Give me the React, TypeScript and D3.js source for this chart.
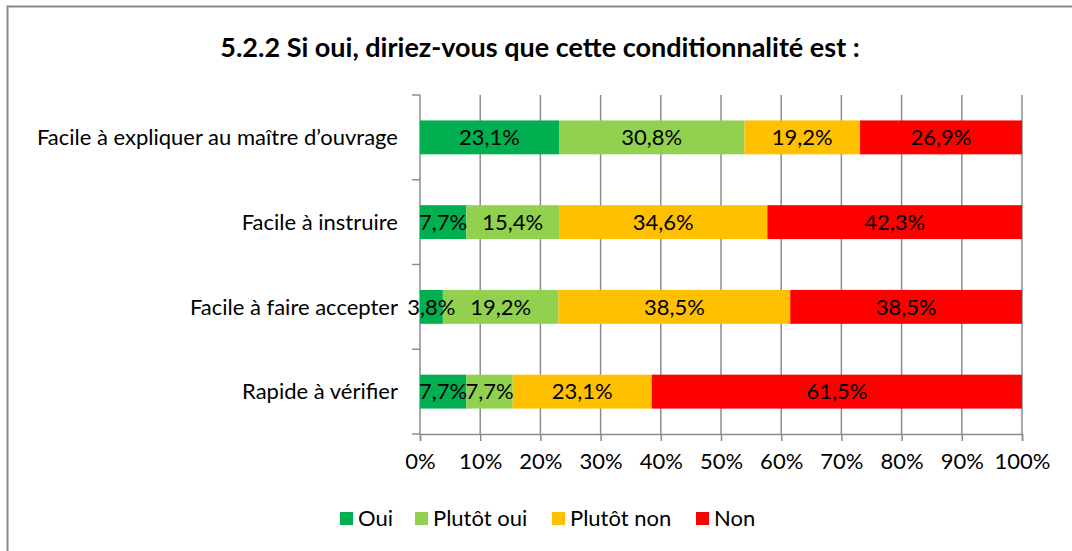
import { useEffect, useRef } from 'react';
import { select, scaleBand, scaleLinear, stack, axisBottom } from 'd3';

const categories = [
  'Facile à expliquer au maître d’ouvrage',
  'Facile à instruire',
  'Facile à faire accepter',
  'Rapide à vérifier',
];
const seriesNames = ['Oui', 'Plutôt oui', 'Plutôt non', 'Non'];
const seriesColors = ['#00B050', '#92D050', '#FFC000', '#FF0000'];
const oui = [23.1, 7.7, 3.8, 7.7];
const plutotOui = [30.8, 15.4, 19.2, 7.7];
const plutotNon = [19.2, 34.6, 38.5, 23.1];
const non = [26.9, 42.3, 38.5, 61.5];
const xTicks = [0, 10, 20, 30, 40, 50, 60, 70, 80, 90, 100];
const title = '5.2.2 Si oui, diriez-vous que cette conditionnalité est :';

const FONT = 'Lato, "Open Sans", sans-serif';
const FS = '22px';

const App = () => {
  const ref = useRef<SVGSVGElement>(null);

  useEffect(() => {
    const width = 1072;
    const height = 551;
    const svg = select(ref.current);
    svg.selectAll('*').remove();
    svg.attr('width', width).attr('height', height);

    // chart frame, cut by the picture on the right and bottom
    svg
      .append('rect')
      .attr('x', 7.5)
      .attr('y', 6.5)
      .attr('width', 1100)
      .attr('height', 600)
      .attr('fill', '#fff')
      .attr('stroke', '#8a8a8a')
      .attr('stroke-width', 2);

    svg
      .append('text')
      .attr('x', 540)
      .attr('y', 57)
      .attr('text-anchor', 'middle')
      .attr('font-family', FONT)
      .attr('font-weight', 'bold')
      .attr('font-size', '27px')
      .attr('fill', '#000')
      .text(title);

    const left = 420;
    const right = 1022;
    const top = 95;
    const bottom = 434;

    const x = scaleLinear().domain([0, 100]).range([left, right]);
    const y = scaleBand()
      .domain(categories)
      .range([top, bottom])
      .paddingInner(0.6)
      .paddingOuter(0.3);
    const step = y.step();

    const rows = categories.map((c, i) => ({
      cat: c,
      'Oui': oui[i],
      'Plutôt oui': plutotOui[i],
      'Plutôt non': plutotNon[i],
      'Non': non[i],
    }));
    const layers = stack<any>().keys(seriesNames)(rows);

    // gridlines
    svg
      .append('g')
      .selectAll('line')
      .data(xTicks.slice(1))
      .enter()
      .append('line')
      .attr('x1', (d) => x(d))
      .attr('x2', (d) => x(d))
      .attr('y1', top)
      .attr('y2', bottom)
      .attr('stroke', '#8c8c8c')
      .attr('stroke-width', 1.5);

    // bottom axis
    const ax = svg
      .append('g')
      .attr('transform', `translate(0,${bottom})`)
      .call(axisBottom(x).tickValues(xTicks).tickSize(7).tickPadding(12).tickFormat((d) => `${d}%`));
    ax.select('.domain').attr('stroke', '#8c8c8c').attr('stroke-width', 1.5);
    ax.selectAll('.tick line').attr('stroke', '#8c8c8c').attr('stroke-width', 1.5);
    ax.selectAll('.tick text')
      .attr('font-family', FONT)
      .attr('font-size', FS)
      .attr('fill', '#000');

    // left axis line and ticks between categories
    svg
      .append('line')
      .attr('x1', left)
      .attr('x2', left)
      .attr('y1', top)
      .attr('y2', bottom)
      .attr('stroke', '#8c8c8c')
      .attr('stroke-width', 1.5);
    svg
      .append('g')
      .selectAll('line')
      .data(categories.map((_, i) => i).concat([categories.length]))
      .enter()
      .append('line')
      .attr('x1', left - 8)
      .attr('x2', left)
      .attr('y1', (i) => top + i * step)
      .attr('y2', (i) => top + i * step)
      .attr('stroke', '#8c8c8c')
      .attr('stroke-width', 1.5);

    // category labels
    svg
      .append('g')
      .selectAll('text')
      .data(categories)
      .enter()
      .append('text')
      .attr('x', 398)
      .attr('y', (d) => y(d)! + y.bandwidth() / 2)
      .attr('dy', '0.35em')
      .attr('text-anchor', 'end')
      .attr('font-family', FONT)
      .attr('font-size', FS)
      .attr('fill', '#000')
      .text((d) => d);

    // bars first, then all the labels on top
    layers.forEach((layer, si) => {
      svg
        .append('g')
        .selectAll('rect')
        .data(layer)
        .enter()
        .append('rect')
        .attr('x', (d) => x(d[0]))
        .attr('y', (d) => y(d.data.cat)!)
        .attr('width', (d) => x(d[1]) - x(d[0]))
        .attr('height', y.bandwidth())
        .attr('fill', seriesColors[si]);
    });
    layers.forEach((layer) => {
      svg
        .append('g')
        .selectAll('text')
        .data(layer)
        .enter()
        .append('text')
        .attr('x', (d) => (x(d[0]) + x(d[1])) / 2)
        .attr('y', (d) => y(d.data.cat)! + y.bandwidth() / 2)
        .attr('dy', '0.35em')
        .attr('text-anchor', 'middle')
        .attr('font-family', FONT)
        .attr('font-size', FS)
        .attr('fill', '#000')
        .text((d) => `${(d[1] - d[0]).toFixed(1).replace('.', ',')}%`);
    });

    // legend
    const legendX = [340, 415, 552, 696];
    const lg = svg.append('g');
    seriesNames.forEach((name, i) => {
      lg.append('rect')
        .attr('x', legendX[i])
        .attr('y', 512)
        .attr('width', 13)
        .attr('height', 13)
        .attr('fill', seriesColors[i]);
      lg.append('text')
        .attr('x', legendX[i] + 18)
        .attr('y', 518.5)
        .attr('dy', '0.35em')
        .attr('font-family', FONT)
        .attr('font-size', FS)
        .attr('fill', '#000')
        .text(name);
    });
  }, []);

  return (
    <svg
      ref={ref}
      style={{ position: 'absolute', left: 0, top: 0, display: 'block' }}
    ></svg>
  );
};

export default App;
